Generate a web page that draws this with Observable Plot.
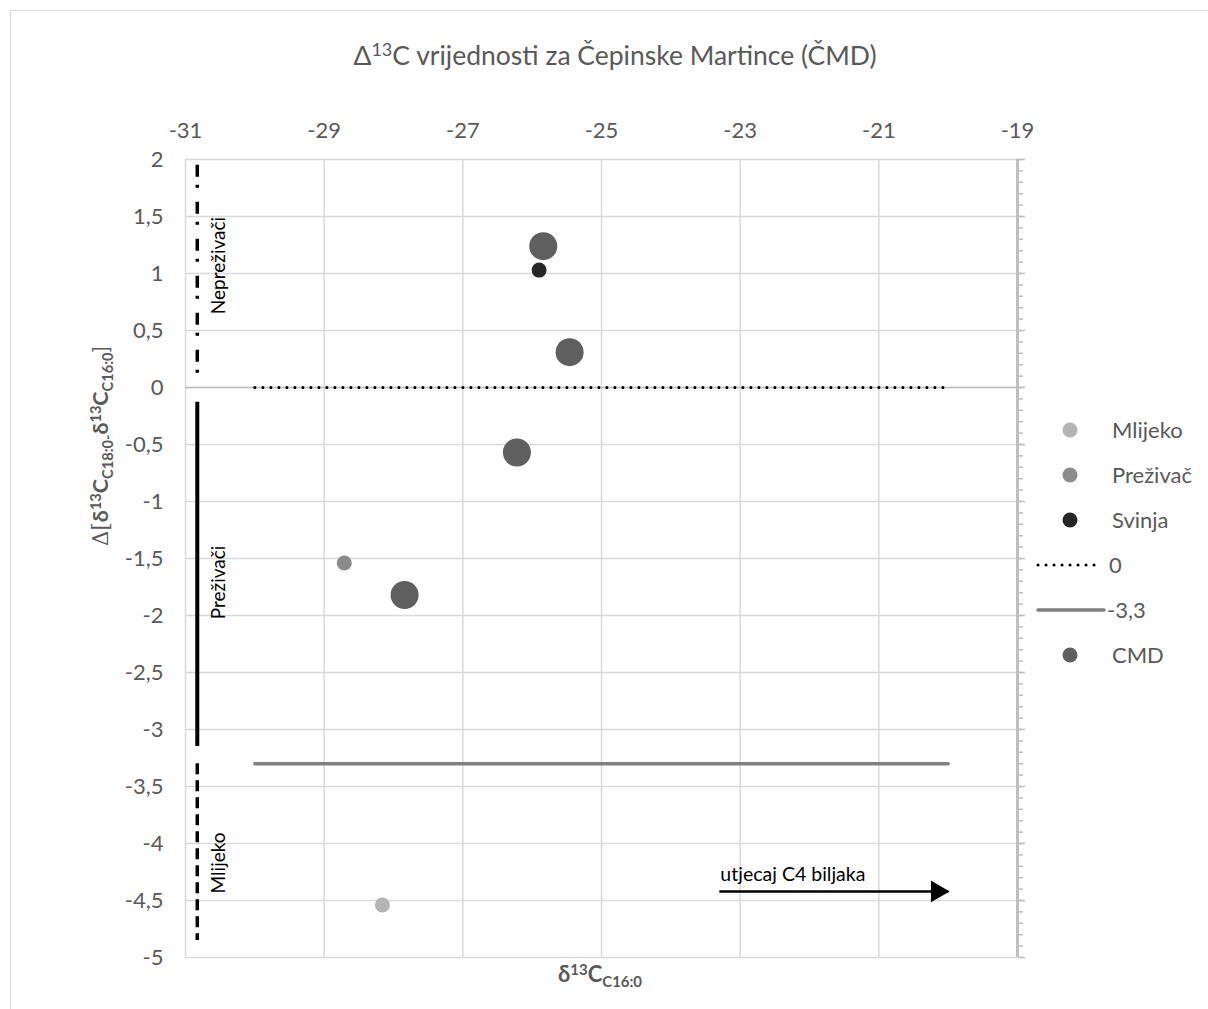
<!DOCTYPE html>
<html>
<head>
<meta charset="utf-8">
<script src="https://cdn.jsdelivr.net/npm/d3@7"></script>
<script src="https://cdn.jsdelivr.net/npm/@observablehq/plot@0.6"></script>
<style>
  html, body { margin: 0; padding: 0; background: #fff; }
  #wrap { position: relative; width: 1208px; height: 1009px; overflow: hidden; font-family: Lato, sans-serif; color: #595959; }
  #frame { position: absolute; left: 10px; top: 10px; width: 1220px; height: 1020px; border: 1.5px solid #d9d9d9; box-sizing: border-box; }
  #plot { position: absolute; left: 0; top: 0; }
  .sup { font-size: 0.68em; position: relative; top: -0.5em; }
  .sub { font-size: 0.68em; position: relative; top: 0.32em; }
  #title { position: absolute; left: 10px; width: 1210px; top: 39px; text-align: center; font-size: 26.5px; line-height: 32px; white-space: nowrap; }
  #ylabel { position: absolute; left: 101px; top: 446px; transform: translate(-50%, -50%) rotate(-90deg); font-size: 21.5px; white-space: nowrap; line-height: 26px; }
  #ylabel b { font-weight: 700; }
  #xlabel { position: absolute; left: 0; width: 1200px; top: 961px; text-align: center; font-size: 22px; font-weight: 700; white-space: nowrap; line-height: 26px; }
  #legend { position: absolute; left: 1035px; top: 0; }
  .li { position: absolute; left: 0; height: 30px; width: 175px; font-size: 22px; white-space: nowrap; }
  .li svg { position: absolute; left: 0; top: 0; }
  .li span { position: absolute; top: 2px; line-height: 26px; }
</style>
</head>
<body>
<div id="wrap">
  <div id="frame"></div>
  <div id="plot"></div>
  <div id="title">Δ<span class="sup">13</span>C vrijednosti za Čepinske Martince (ČMD)</div>
  <div id="ylabel"><span style="font-family:'DejaVu Serif',serif;">Δ[</span><b>δ<span class="sup">13</span>C<span class="sub">C18:0-</span>δ<span class="sup">13</span>C<span class="sub">C16:0</span></b>]</div>
  <div id="xlabel">δ<span class="sup">13</span>C<span class="sub">C16:0</span></div>
  <div id="legend"></div>
</div>
<script>
// ---------- data ----------
const seriesNames = ["Mlijeko", "Preživač", "Svinja", "CMD"];
const mlijekoX = [-28.16];
const mlijekoY = [-4.54];
const prezivacX = [-28.71];
const prezivacY = [-1.54];
const svinjaX = [-25.9];
const svinjaY = [1.03];
const cmdX = [-25.84, -25.46, -26.22, -27.84];
const cmdY = [1.24, 0.31, -0.57, -1.82];

const refLineNames = ["0", "-3,3"];
const refLineY = [0, -3.3];
const refLineX1 = [-30, -30];
const refLineX2 = [-20, -20];

const zoneNames = ["Nepreživači", "Preživači", "Mlijeko"];
const zoneX = [-30.83, -30.83, -30.83];
const zoneTop = [1.95, -0.13, -3.3];
const zoneBottom = [0.1, -3.15, -4.85];
const zoneLabelX = [-30.52, -30.52, -30.52];
const zoneLabelY = [1.07, -1.71, -4.17];

const arrowLabel = ["utjecaj C4 biljaka"];
const arrowX1 = [-23.3];
const arrowX2 = [-20];
const arrowY = [-4.42];

const xTicks = [-31, -29, -27, -25, -23, -21, -19];
const yTicks = [2, 1.5, 1, 0.5, 0, -0.5, -1, -1.5, -2, -2.5, -3, -3.5, -4, -4.5, -5];

// ---------- styles ----------
const colors = { "Mlijeko": "#b4b4b4", "Preživač": "#8b8b8b", "Svinja": "#262626", "CMD": "#5f5f5f" };
const fmt = d => String(d).replace(".", ",");

const points = [
  ...cmdX.map((x, i) => ({ s: "CMD", x, y: cmdY[i] })),
  ...mlijekoX.map((x, i) => ({ s: "Mlijeko", x, y: mlijekoY[i] })),
  ...prezivacX.map((x, i) => ({ s: "Preživač", x, y: prezivacY[i] })),
  ...svinjaX.map((x, i) => ({ s: "Svinja", x, y: svinjaY[i] }))
];
const refLines = refLineNames.map((n, i) => ({ n, y: refLineY[i], x1: refLineX1[i], x2: refLineX2[i] }));
const zones = zoneNames.map((n, i) => ({ n, x: zoneX[i], y1: zoneTop[i], y2: zoneBottom[i], lx: zoneLabelX[i], ly: zoneLabelY[i] }));
const arrows = arrowLabel.map((t, i) => ({ t, x1: arrowX1[i], x2: arrowX2[i], y: arrowY[i] }));
const minorTicks = d3.range(-50, 21, 1).map(d => d / 10);
const zoneDash = ["12,8,3,14", null, "11,6"];
const zoneWidth = [3.5, 4, 3.5];

const chart = Plot.plot({
  width: 1208,
  height: 1009,
  marginLeft: 185,
  marginRight: 191,
  marginTop: 159,
  marginBottom: 52,
  x: { domain: [-31, -19] },
  y: { domain: [-5, 2] },
  style: { fontFamily: "Lato, sans-serif", background: "transparent", overflow: "visible" },
  marks: [
    Plot.gridX(xTicks, { stroke: "#d9d9d9", strokeOpacity: 1, strokeWidth: 1.5 }),
    Plot.gridY(yTicks, { stroke: "#d9d9d9", strokeOpacity: 1, strokeWidth: 1.5 }),
    Plot.ruleY([0], { stroke: "#bfbfbf", strokeWidth: 1.5 }),
    Plot.axisX(xTicks, { anchor: "top", tickSize: 0, tickPadding: 22, tickFormat: fmt, fontSize: 22, fill: "#595959", label: null }),
    Plot.axisY(yTicks, { anchor: "left", tickSize: 0, tickPadding: 22, tickFormat: fmt, fontSize: 22, fill: "#595959", label: null }),
    Plot.axisY(minorTicks, { anchor: "right", tickSize: 5, tickFormat: () => "", stroke: "#bfbfbf", strokeWidth: 1.5, label: null }),
    Plot.axisY(yTicks, { anchor: "right", tickSize: 7, tickFormat: () => "", stroke: "#bfbfbf", strokeWidth: 1.5, label: null }),
    Plot.ruleX([-19], { stroke: "#bfbfbf", strokeWidth: 3 }),
    // reference lines
    Plot.link(refLines.filter(d => d.n === "0"), { x1: "x1", x2: "x2", y1: "y", y2: "y", stroke: "#000", strokeWidth: 3, strokeLinecap: "round", strokeDasharray: "0.1,7.9" }),
    Plot.link(refLines.filter(d => d.n === "-3,3"), { x1: "x1", x2: "x2", y1: "y", y2: "y", stroke: "#808080", strokeWidth: 3.5, strokeLinecap: "round" }),
    // zone rules
    ...zones.map((z, i) => Plot.ruleX([z], { x: "x", y1: "y1", y2: "y2", stroke: "#000", strokeWidth: zoneWidth[i], strokeDasharray: zoneDash[i] || undefined })),
    Plot.text(zones, { x: "lx", y: "ly", text: "n", rotate: -90, fontSize: 19, fill: "#000" }),
    // arrow
    Plot.link(arrows, { x1: "x1", x2: "x2", y1: "y", y2: "y", stroke: "#000", strokeWidth: 2.5 }),
    Plot.dot(arrows, { x: "x2", y: "y", symbol: "triangle", rotate: 90, r: 8, fill: "#000", dx: -11 }),
    Plot.text(arrows, { x: "x1", y: "y", text: "t", textAnchor: "start", dx: 1, dy: -17, fontSize: 19.5, fill: "#000" }),
    // points
    Plot.dot(points.filter(d => d.s === "CMD"), { x: "x", y: "y", r: 14, fill: d => colors[d.s] }),
    Plot.dot(points.filter(d => d.s !== "CMD"), { x: "x", y: "y", r: 7.5, fill: d => colors[d.s] })
  ]
});
document.getElementById("plot").appendChild(chart);

// ---------- legend ----------
const legendItems = [
  { label: seriesNames[0], kind: "dot", color: colors["Mlijeko"], y: 430 },
  { label: seriesNames[1], kind: "dot", color: colors["Preživač"], y: 475 },
  { label: seriesNames[2], kind: "dot", color: colors["Svinja"], y: 520 },
  { label: refLineNames[0], kind: "dotted", y: 565 },
  { label: refLineNames[1], kind: "solid", y: 610 },
  { label: seriesNames[3], kind: "dot", color: colors["CMD"], y: 655 }
];
const legend = document.getElementById("legend");
legendItems.forEach(it => {
  const div = document.createElement("div");
  div.className = "li";
  div.style.top = (it.y - 15) + "px";
  let svg = "";
  if (it.kind === "dot") {
    svg = `<svg width="70" height="30"><circle cx="35" cy="15" r="7.5" fill="${it.color}"/></svg>`;
  } else if (it.kind === "dotted") {
    svg = `<svg width="70" height="30"><line x1="3" x2="66" y1="15" y2="15" stroke="#000" stroke-width="3" stroke-linecap="round" stroke-dasharray="0.1,7.9"/></svg>`;
  } else {
    svg = `<svg width="72" height="30"><line x1="3" x2="69" y1="15" y2="15" stroke="#808080" stroke-width="3.5" stroke-linecap="round"/></svg>`;
  }
  const left = it.kind === "dot" ? 77 : (it.kind === "dotted" ? 74 : 72);
  div.innerHTML = svg + `<span style="left:${left}px">${it.label}</span>`;
  legend.appendChild(div);
});
</script>
</body>
</html>
